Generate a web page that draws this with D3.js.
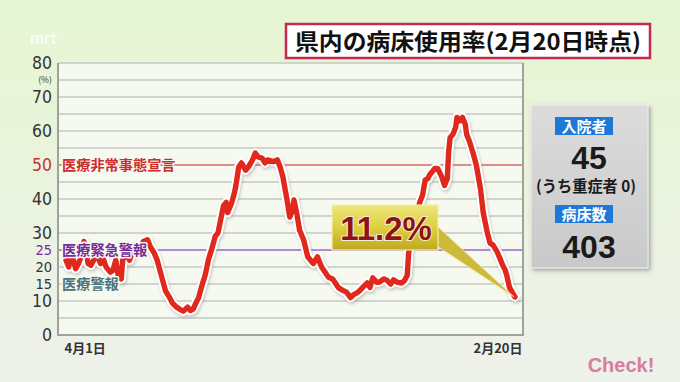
<!DOCTYPE html>
<html><head><meta charset="utf-8">
<script src="https://cdn.jsdelivr.net/npm/d3@7"></script>
<style>body{margin:0;background:#eaf4dc} svg{display:block}</style>
</head><body><svg id="c" width="680" height="382"></svg>
<script>
// ---- data ----
const days = [0,2,4,7,9,11,13,14,16,18,20,22,25,27,29,32,34,36,38,40,41,44,46,48,51,54,56,59,61,64,66,68,70,72,75,77,80,83,85,88,90,92,94,96,98,101,103,106,108,110,111,114,116,117,120,122,123,125,127,130,132,135,137,139,142,144,146,150,153,155,157,160,162,164,165,167,169,172,175,179,182,185,190,193,195,197,200,203,206,208,211,213,216,218,220,222,225,227,230,232,235,237,240,243,245,247,248,250,252,254,256,258,260,262,263,267,269,272,274,276,277,278,280,282,283,285,287,289,290,292,295,297,300,302,305,307,309,312,314,316,318,319,321,324,325];
const rate = [22,20,24,19.5,21,23,27.5,26,21,20.5,22,24,21,22.5,20,18.5,19,22,17,16.5,22,24,22,24.5,25,26,27.5,28,26,24,22,19,16,13,11,9.4,8.2,7.4,7.0,8.2,7.2,7.6,9.4,11,14,18,22,26,29,30,32,38,39,36,39,42,44,49.4,50.6,48.5,49.4,51.5,53.5,52.4,52,50.6,51.5,51,51.5,49.4,46.5,39.7,34.7,36.8,39.7,35.9,30.9,28,23,21,23,20,17,16.5,15.3,14,13.2,12.6,11,11.8,12.5,13.2,14.5,15.3,14,16.8,15.5,15.6,16.5,16.2,15,16.2,15.5,15.3,16,17.6,24,30,33,35,39,41,45.6,46,47,49,49,46.5,44,46,54,58,59,61,64,63,64,62,59,57,53,50,43,36,30,27,26.5,24.5,22.6,20.6,19,17.6,14,11.8,11.2];
const yTicks = [0,10,15,20,25,30,40,50,60,70,80];
const xTickDays = [0,325];
const xTickLabels = ["4月1日","2月20日"];
const thresholds = [50,25,15];
const thresholdLabels = ["医療非常事態宣言","医療緊急警報","医療警報"];
const thresholdColors = ["#cc2e2e","#7a2a9e","#4d7280"];
const title = "県内の病床使用率(2月20日時点)";
const latestLabel = "11.2%";
const panelItems = ["入院者","45","(うち重症者 0)","病床数","403"];

// ---- drawing ----
const svg = d3.select("#c");
const defs = svg.append("defs");
const bg = defs.append("linearGradient").attr("id","bg").attr("x1",0).attr("y1",0).attr("x2",0).attr("y2",1);
bg.append("stop").attr("offset","0").attr("stop-color","#e6f6d2");
bg.append("stop").attr("offset","1").attr("stop-color","#eef1ea");
svg.append("rect").attr("width",680).attr("height",382).attr("fill","url(#bg)");

const JP = "'Noto Sans CJK JP','Noto Sans',sans-serif";
const NUM = "'Liberation Sans Narrow','DejaVu Sans Condensed','Roboto',sans-serif";

// watermark
svg.append("text").attr("x",30).attr("y",44).text("mrt").attr("font-family","Lato,sans-serif")
  .attr("font-size",17).attr("font-weight","bold").attr("fill","#ffffff").attr("opacity",0.75);

const x = d3.scaleLinear().domain([0,325]).range([66,515]);
const y = d3.scaleLinear().domain([0,80]).range([335,63]);
const L = 58, R = 523;

// plot area
svg.append("rect").attr("x",L).attr("y",y(80)).attr("width",R-L).attr("height",y(0)-y(80))
  .attr("fill","#f5f9ef");
// gridlines
const grid = d3.range(5,81,5);
svg.append("g").selectAll("line").data(grid).join("line")
  .attr("x1",L).attr("x2",R).attr("y1",d=>y(d)).attr("y2",d=>y(d))
  .attr("stroke",d=>d===50?"#d46a6a":d===25?"#9a66c8":"#c4c7c0")
  .attr("stroke-width",1.6);
// frame
svg.append("path").attr("d",`M${L},${y(80)}V${y(0)}H${R}V${y(80)}`).attr("fill","none")
  .attr("stroke","#a0a39c").attr("stroke-width",2);

// y axis
const tight = new Set([15,20,25]);
const yAxis = svg.append("g").attr("transform",`translate(${L},0)`)
  .call(d3.axisLeft(y).tickValues(yTicks).tickSize(0).tickPadding(6));
yAxis.select(".domain").remove();
yAxis.selectAll("text").attr("font-family",NUM).attr("font-size",d=>tight.has(d)?14.5:17.5)
  .attr("dy","0.34em")
  .attr("fill",d=>d===50?"#c83030":d===25?"#7a2a9e":"#333");
svg.append("text").attr("x",45).attr("y",83).attr("text-anchor","middle").text("(%)")
  .attr("font-family",JP).attr("font-size",8.5).attr("fill","#333");

// x axis
const xAxis = svg.append("g").attr("transform",`translate(0,${y(0)})`)
  .call(d3.axisBottom(x).tickValues(xTickDays).tickSize(0).tickPadding(9)
    .tickFormat((d,i)=>xTickLabels[i]));
xAxis.select(".domain").remove();
xAxis.selectAll("text").attr("font-family",JP).attr("font-size",13).attr("font-weight","bold")
  .attr("fill","#333").attr("text-anchor",(d,i)=>i===0?"start":"end")
  .attr("dx",(d,i)=>i===0?-2:7);

// line
const line = d3.line().x((d,i)=>x(days[i])).y(d=>y(d)).curve(d3.curveLinear);
const sh = defs.append("filter").attr("id","sh").attr("x","-5%").attr("y","-5%").attr("width","110%").attr("height","110%");
sh.append("feGaussianBlur").attr("stdDeviation",1.5);
svg.append("path").datum(rate).attr("d",line).attr("fill","none").attr("stroke","#888")
  .attr("stroke-width",9).attr("stroke-linejoin","round").attr("stroke-linecap","round")
  .attr("opacity",0.45).attr("filter","url(#sh)").attr("transform","translate(1,2)");
svg.append("path").datum(rate).attr("d",line).attr("fill","none").attr("stroke","#ffffff")
  .attr("stroke-width",9.5).attr("stroke-linejoin","round").attr("stroke-linecap","round");
svg.append("path").datum(rate).attr("d",line).attr("fill","none").attr("stroke","#e0281c")
  .attr("stroke-width",5.4).attr("stroke-linejoin","round").attr("stroke-linecap","round");

// threshold labels
svg.append("g").selectAll("text").data(thresholds).join("text")
  .attr("x",62).attr("y",d=>y(d)+5).text((d,i)=>thresholdLabels[i])
  .attr("font-family",JP).attr("font-size",14.2).attr("font-weight","bold")
  .attr("fill",(d,i)=>thresholdColors[i]).attr("stroke","#f5f9ef").attr("stroke-width",3)
  .attr("paint-order","stroke").attr("stroke-linejoin","round");

// callout
const px = x(days[days.length-1]), py = y(rate[rate.length-1]);
const cg = defs.append("linearGradient").attr("id","cg").attr("x1",0).attr("y1",0).attr("x2",0).attr("y2",1);
cg.append("stop").attr("offset","0").attr("stop-color","#eee67a");
cg.append("stop").attr("offset","0.5").attr("stop-color","#ddd040");
cg.append("stop").attr("offset","1").attr("stop-color","#c0a820");
svg.append("path").attr("d",`M437,226L${px-1},${py}L437,246Z`).attr("fill","#cfb93a")
  .attr("stroke","#f3ecb0").attr("stroke-width",0.8);
svg.append("rect").attr("x",332).attr("y",205).attr("width",106).attr("height",45)
  .attr("fill","url(#cg)").attr("stroke","#f4eeb0").attr("stroke-width",1.2);
svg.append("text").attr("x",386).attr("y",240).attr("text-anchor","middle").text(latestLabel)
  .attr("font-family","'Liberation Sans','Arial',sans-serif").attr("font-size",33).attr("font-weight","bold")
  .attr("fill","#8e1414").attr("stroke","#f6efd0").attr("stroke-width",2).attr("paint-order","stroke");

// title
svg.append("rect").attr("x",286).attr("y",24).attr("width",364).attr("height",34)
  .attr("fill","#ffffff").attr("stroke","#c22a52").attr("stroke-width",2.5);
svg.append("text").attr("x",468).attr("y",50).attr("text-anchor","middle").text(title)
  .attr("font-family",JP).attr("font-size",22.5).attr("font-weight","bold").attr("fill","#111")
  .attr("textLength",346).attr("lengthAdjust","spacingAndGlyphs");

// right panel
const pg = defs.append("linearGradient").attr("id","pg").attr("x1",0).attr("y1",0).attr("x2",0).attr("y2",1);
pg.append("stop").attr("offset","0").attr("stop-color","#dcdcdc");
pg.append("stop").attr("offset","1").attr("stop-color","#c9c9c9");
const ps = defs.append("filter").attr("id","ps").attr("x","-10%").attr("y","-10%").attr("width","125%").attr("height","125%");
ps.append("feDropShadow").attr("dx",2).attr("dy",2).attr("stdDeviation",2).attr("flood-color","#555").attr("flood-opacity",0.5);
svg.append("rect").attr("x",531).attr("y",105).attr("width",117).attr("height",163)
  .attr("fill","url(#pg)").attr("stroke","#eeeeee").attr("stroke-width",1).attr("filter","url(#ps)");
[[117,0],[205,3]].forEach(([ty,i])=>{
  svg.append("rect").attr("x",555).attr("y",ty).attr("width",58).attr("height",18).attr("fill","#1e78d8");
  svg.append("text").attr("x",584).attr("y",ty+15).attr("text-anchor","middle").text(panelItems[i])
    .attr("font-family",JP).attr("font-size",15).attr("font-weight","bold").attr("fill","#fff");
});
svg.append("text").attr("x",589).attr("y",169).attr("text-anchor","middle").text(panelItems[1])
  .attr("font-family","'Liberation Sans',Arial,sans-serif").attr("font-size",32).attr("font-weight","bold").attr("fill","#1a1a1a");
svg.append("text").attr("x",586).attr("y",192).attr("text-anchor","middle").text(panelItems[2])
  .attr("font-family",JP).attr("font-size",15.5).attr("font-weight","bold").attr("fill","#1a1a1a")
  .attr("textLength",100).attr("lengthAdjust","spacingAndGlyphs");
svg.append("text").attr("x",589).attr("y",258).attr("text-anchor","middle").text(panelItems[4])
  .attr("font-family","'Liberation Sans',Arial,sans-serif").attr("font-size",32).attr("font-weight","bold").attr("fill","#1a1a1a");

// logo
svg.append("text").attr("x",621).attr("y",372).attr("text-anchor","middle").text("Check!")
  .attr("font-family","'Liberation Sans',Arial,sans-serif").attr("font-size",20).attr("font-weight","bold")
  .attr("fill","#d97d9c");
</script></body></html>
